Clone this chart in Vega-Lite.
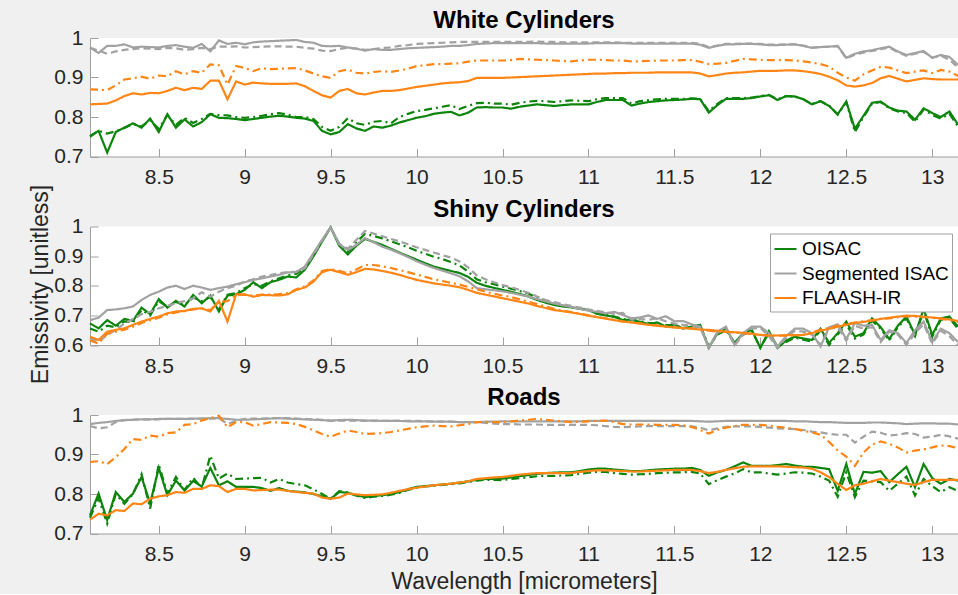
{
"$schema":"https://vega.github.io/schema/vega-lite/v6.json",
"background":"#f0f0f0",
"padding":{"left":29,"top":9,"right":0,"bottom":0},
"bounds":"flush",
"spacing":69.5,
"config":{
"font":"Liberation Sans",
"view":{"fill":"white","stroke":null},
"axis":{"domainColor":"#a0a0a0","tickColor":"#a0a0a0","domainWidth":1,"tickWidth":1,"labelColor":"#262626","labelFontSize":21,"titleFontSize":23,"titleFontWeight":"normal","titleColor":"#262626","grid":false,"tickSize":-8},
"axisX":{"labelPadding":18,"titlePadding":6},
"axisY":{"labelPadding":15,"titlePadding":2},
"title":{"fontSize":24,"fontWeight":"bold","color":"#000000","offset":-6,"anchor":"middle"},
"line":{"strokeWidth":2.2,"clip":true}
},
"datasets":{
"white":[
{"x":8.1,"O1":0.752,"O2":0.75,"S1":0.976,"S2":0.975,"F1":0.832,"F2":0.87},
{"x":8.15,"O1":0.765,"O2":0.765,"S1":0.962,"S2":0.968,"F1":0.833,"F2":0.869},
{"x":8.2,"O1":0.71,"O2":0.758,"S1":0.98,"S2":0.96,"F1":0.834,"F2":0.868},
{"x":8.25,"O1":0.762,"O2":0.764,"S1":0.98,"S2":0.966,"F1":0.842,"F2":0.88},
{"x":8.3,"O1":0.773,"O2":0.772,"S1":0.984,"S2":0.97,"F1":0.853,"F2":0.895},
{"x":8.35,"O1":0.784,"O2":0.782,"S1":0.976,"S2":0.972,"F1":0.86,"F2":0.898},
{"x":8.4,"O1":0.773,"O2":0.776,"S1":0.978,"S2":0.974,"F1":0.857,"F2":0.902},
{"x":8.45,"O1":0.796,"O2":0.792,"S1":0.977,"S2":0.973,"F1":0.861,"F2":0.897},
{"x":8.5,"O1":0.762,"O2":0.77,"S1":0.976,"S2":0.972,"F1":0.86,"F2":0.905},
{"x":8.55,"O1":0.807,"O2":0.805,"S1":0.98,"S2":0.975,"F1":0.866,"F2":0.903},
{"x":8.6,"O1":0.773,"O2":0.78,"S1":0.982,"S2":0.974,"F1":0.874,"F2":0.916},
{"x":8.65,"O1":0.794,"O2":0.798,"S1":0.978,"S2":0.97,"F1":0.868,"F2":0.908},
{"x":8.7,"O1":0.776,"O2":0.785,"S1":0.975,"S2":0.972,"F1":0.874,"F2":0.916},
{"x":8.75,"O1":0.787,"O2":0.795,"S1":0.985,"S2":0.975,"F1":0.871,"F2":0.912},
{"x":8.8,"O1":0.807,"O2":0.808,"S1":0.966,"S2":0.972,"F1":0.892,"F2":0.933},
{"x":8.85,"O1":0.798,"O2":0.805,"S1":0.994,"S2":0.978,"F1":0.892,"F2":0.931},
{"x":8.9,"O1":0.797,"O2":0.804,"S1":0.985,"S2":0.978,"F1":0.845,"F2":0.882},
{"x":8.95,"O1":0.795,"O2":0.8,"S1":0.988,"S2":0.979,"F1":0.89,"F2":0.929},
{"x":9.0,"O1":0.792,"O2":0.798,"S1":0.984,"S2":0.976,"F1":0.882,"F2":0.924},
{"x":9.05,"O1":0.795,"O2":0.8,"S1":0.989,"S2":0.977,"F1":0.887,"F2":0.916},
{"x":9.1,"O1":0.798,"O2":0.803,"S1":0.991,"S2":0.978,"F1":0.885,"F2":0.924},
{"x":9.15,"O1":0.801,"O2":0.807,"S1":0.992,"S2":0.979,"F1":0.884,"F2":0.921},
{"x":9.2,"O1":0.803,"O2":0.81,"S1":0.993,"S2":0.979,"F1":0.884,"F2":0.922},
{"x":9.25,"O1":0.801,"O2":0.806,"S1":0.994,"S2":0.978,"F1":0.884,"F2":0.923},
{"x":9.3,"O1":0.798,"O2":0.8,"S1":0.995,"S2":0.978,"F1":0.885,"F2":0.924},
{"x":9.35,"O1":0.796,"O2":0.8,"S1":0.99,"S2":0.975,"F1":0.878,"F2":0.918},
{"x":9.4,"O1":0.79,"O2":0.795,"S1":0.988,"S2":0.973,"F1":0.866,"F2":0.91},
{"x":9.45,"O1":0.765,"O2":0.775,"S1":0.98,"S2":0.968,"F1":0.855,"F2":0.903},
{"x":9.5,"O1":0.756,"O2":0.765,"S1":0.979,"S2":0.967,"F1":0.849,"F2":0.899},
{"x":9.55,"O1":0.762,"O2":0.775,"S1":0.98,"S2":0.972,"F1":0.866,"F2":0.916},
{"x":9.6,"O1":0.782,"O2":0.797,"S1":0.976,"S2":0.975,"F1":0.871,"F2":0.92},
{"x":9.65,"O1":0.771,"O2":0.784,"S1":0.973,"S2":0.973,"F1":0.86,"F2":0.912},
{"x":9.7,"O1":0.765,"O2":0.78,"S1":0.968,"S2":0.97,"F1":0.857,"F2":0.91},
{"x":9.75,"O1":0.776,"O2":0.788,"S1":0.972,"S2":0.972,"F1":0.862,"F2":0.914},
{"x":9.8,"O1":0.773,"O2":0.79,"S1":0.97,"S2":0.975,"F1":0.866,"F2":0.916},
{"x":9.85,"O1":0.778,"O2":0.784,"S1":0.97,"S2":0.976,"F1":0.866,"F2":0.914},
{"x":9.9,"O1":0.786,"O2":0.8,"S1":0.972,"S2":0.98,"F1":0.868,"F2":0.918},
{"x":9.95,"O1":0.792,"O2":0.808,"S1":0.974,"S2":0.982,"F1":0.872,"F2":0.922},
{"x":10.0,"O1":0.798,"O2":0.815,"S1":0.975,"S2":0.985,"F1":0.876,"F2":0.929},
{"x":10.05,"O1":0.802,"O2":0.818,"S1":0.976,"S2":0.986,"F1":0.879,"F2":0.931},
{"x":10.1,"O1":0.808,"O2":0.822,"S1":0.977,"S2":0.987,"F1":0.882,"F2":0.934},
{"x":10.15,"O1":0.811,"O2":0.826,"S1":0.978,"S2":0.988,"F1":0.885,"F2":0.934},
{"x":10.2,"O1":0.813,"O2":0.83,"S1":0.98,"S2":0.989,"F1":0.887,"F2":0.935},
{"x":10.25,"O1":0.804,"O2":0.82,"S1":0.98,"S2":0.99,"F1":0.888,"F2":0.936},
{"x":10.3,"O1":0.811,"O2":0.828,"S1":0.982,"S2":0.99,"F1":0.891,"F2":0.94},
{"x":10.35,"O1":0.824,"O2":0.835,"S1":0.985,"S2":0.99,"F1":0.899,"F2":0.943},
{"x":10.4,"O1":0.825,"O2":0.836,"S1":0.986,"S2":0.99,"F1":0.899,"F2":0.943},
{"x":10.45,"O1":0.824,"O2":0.834,"S1":0.987,"S2":0.99,"F1":0.899,"F2":0.943},
{"x":10.5,"O1":0.824,"O2":0.834,"S1":0.987,"S2":0.99,"F1":0.899,"F2":0.943},
{"x":10.55,"O1":0.821,"O2":0.831,"S1":0.987,"S2":0.99,"F1":0.9,"F2":0.944},
{"x":10.6,"O1":0.826,"O2":0.836,"S1":0.987,"S2":0.99,"F1":0.901,"F2":0.947},
{"x":10.65,"O1":0.829,"O2":0.839,"S1":0.987,"S2":0.99,"F1":0.902,"F2":0.946},
{"x":10.7,"O1":0.832,"O2":0.841,"S1":0.987,"S2":0.991,"F1":0.903,"F2":0.945},
{"x":10.75,"O1":0.83,"O2":0.84,"S1":0.986,"S2":0.99,"F1":0.904,"F2":0.944},
{"x":10.8,"O1":0.828,"O2":0.838,"S1":0.986,"S2":0.99,"F1":0.905,"F2":0.943},
{"x":10.85,"O1":0.83,"O2":0.84,"S1":0.986,"S2":0.989,"F1":0.906,"F2":0.942},
{"x":10.9,"O1":0.832,"O2":0.842,"S1":0.986,"S2":0.989,"F1":0.907,"F2":0.941},
{"x":10.95,"O1":0.832,"O2":0.841,"S1":0.986,"S2":0.989,"F1":0.908,"F2":0.943},
{"x":11.0,"O1":0.832,"O2":0.84,"S1":0.986,"S2":0.989,"F1":0.909,"F2":0.945},
{"x":11.05,"O1":0.838,"O2":0.845,"S1":0.987,"S2":0.989,"F1":0.91,"F2":0.945},
{"x":11.1,"O1":0.843,"O2":0.848,"S1":0.987,"S2":0.989,"F1":0.91,"F2":0.944},
{"x":11.15,"O1":0.843,"O2":0.848,"S1":0.987,"S2":0.989,"F1":0.911,"F2":0.943},
{"x":11.2,"O1":0.843,"O2":0.848,"S1":0.987,"S2":0.988,"F1":0.911,"F2":0.943},
{"x":11.25,"O1":0.829,"O2":0.834,"S1":0.986,"S2":0.988,"F1":0.912,"F2":0.941},
{"x":11.3,"O1":0.834,"O2":0.84,"S1":0.986,"S2":0.988,"F1":0.912,"F2":0.941},
{"x":11.35,"O1":0.838,"O2":0.843,"S1":0.986,"S2":0.988,"F1":0.912,"F2":0.942},
{"x":11.4,"O1":0.84,"O2":0.845,"S1":0.986,"S2":0.988,"F1":0.913,"F2":0.943},
{"x":11.45,"O1":0.842,"O2":0.846,"S1":0.986,"S2":0.988,"F1":0.913,"F2":0.943},
{"x":11.5,"O1":0.843,"O2":0.846,"S1":0.986,"S2":0.988,"F1":0.913,"F2":0.943},
{"x":11.55,"O1":0.844,"O2":0.846,"S1":0.986,"S2":0.988,"F1":0.913,"F2":0.944},
{"x":11.6,"O1":0.846,"O2":0.847,"S1":0.986,"S2":0.988,"F1":0.913,"F2":0.944},
{"x":11.65,"O1":0.845,"O2":0.846,"S1":0.983,"S2":0.985,"F1":0.91,"F2":0.94},
{"x":11.7,"O1":0.811,"O2":0.815,"S1":0.975,"S2":0.977,"F1":0.903,"F2":0.934},
{"x":11.75,"O1":0.83,"O2":0.833,"S1":0.98,"S2":0.981,"F1":0.906,"F2":0.935},
{"x":11.8,"O1":0.846,"O2":0.848,"S1":0.984,"S2":0.985,"F1":0.91,"F2":0.937},
{"x":11.85,"O1":0.846,"O2":0.848,"S1":0.984,"S2":0.985,"F1":0.912,"F2":0.942},
{"x":11.9,"O1":0.846,"O2":0.848,"S1":0.985,"S2":0.986,"F1":0.913,"F2":0.947},
{"x":11.95,"O1":0.848,"O2":0.849,"S1":0.985,"S2":0.986,"F1":0.915,"F2":0.946},
{"x":12.0,"O1":0.852,"O2":0.853,"S1":0.984,"S2":0.985,"F1":0.917,"F2":0.945},
{"x":12.05,"O1":0.855,"O2":0.856,"S1":0.982,"S2":0.983,"F1":0.917,"F2":0.944},
{"x":12.1,"O1":0.843,"O2":0.845,"S1":0.982,"S2":0.983,"F1":0.917,"F2":0.944},
{"x":12.15,"O1":0.853,"O2":0.853,"S1":0.983,"S2":0.984,"F1":0.918,"F2":0.944},
{"x":12.2,"O1":0.852,"O2":0.852,"S1":0.984,"S2":0.984,"F1":0.918,"F2":0.943},
{"x":12.25,"O1":0.845,"O2":0.845,"S1":0.98,"S2":0.981,"F1":0.916,"F2":0.941},
{"x":12.3,"O1":0.832,"O2":0.833,"S1":0.975,"S2":0.976,"F1":0.913,"F2":0.938},
{"x":12.35,"O1":0.84,"O2":0.84,"S1":0.977,"S2":0.977,"F1":0.909,"F2":0.934},
{"x":12.4,"O1":0.828,"O2":0.829,"S1":0.978,"S2":0.978,"F1":0.902,"F2":0.928},
{"x":12.45,"O1":0.807,"O2":0.806,"S1":0.98,"S2":0.979,"F1":0.893,"F2":0.912},
{"x":12.5,"O1":0.839,"O2":0.838,"S1":0.95,"S2":0.948,"F1":0.88,"F2":0.9},
{"x":12.55,"O1":0.77,"O2":0.762,"S1":0.96,"S2":0.958,"F1":0.877,"F2":0.892},
{"x":12.6,"O1":0.803,"O2":0.8,"S1":0.966,"S2":0.963,"F1":0.88,"F2":0.908},
{"x":12.65,"O1":0.836,"O2":0.834,"S1":0.969,"S2":0.967,"F1":0.886,"F2":0.918},
{"x":12.7,"O1":0.839,"O2":0.838,"S1":0.974,"S2":0.972,"F1":0.898,"F2":0.927},
{"x":12.75,"O1":0.824,"O2":0.822,"S1":0.978,"S2":0.976,"F1":0.904,"F2":0.925},
{"x":12.8,"O1":0.816,"O2":0.814,"S1":0.966,"S2":0.964,"F1":0.897,"F2":0.918},
{"x":12.85,"O1":0.814,"O2":0.81,"S1":0.957,"S2":0.955,"F1":0.89,"F2":0.911},
{"x":12.9,"O1":0.793,"O2":0.788,"S1":0.962,"S2":0.96,"F1":0.894,"F2":0.915},
{"x":12.95,"O1":0.822,"O2":0.819,"S1":0.967,"S2":0.965,"F1":0.898,"F2":0.918},
{"x":13.0,"O1":0.81,"O2":0.805,"S1":0.95,"S2":0.95,"F1":0.896,"F2":0.911},
{"x":13.05,"O1":0.8,"O2":0.796,"S1":0.957,"S2":0.955,"F1":0.895,"F2":0.919},
{"x":13.1,"O1":0.814,"O2":0.808,"S1":0.952,"S2":0.945,"F1":0.895,"F2":0.915},
{"x":13.15,"O1":0.781,"O2":0.776,"S1":0.932,"S2":0.925,"F1":0.895,"F2":0.904}
],
"shiny":[
{"x":8.1,"O1":0.673,"O2":0.656,"S1":0.684,"S2":0.622,"F1":0.628,"F2":0.615},
{"x":8.15,"O1":0.656,"O2":0.645,"S1":0.692,"S2":0.611,"F1":0.617,"F2":0.605},
{"x":8.2,"O1":0.684,"O2":0.665,"S1":0.718,"S2":0.634,"F1":0.645,"F2":0.638},
{"x":8.25,"O1":0.665,"O2":0.66,"S1":0.72,"S2":0.65,"F1":0.651,"F2":0.645},
{"x":8.3,"O1":0.688,"O2":0.68,"S1":0.724,"S2":0.673,"F1":0.656,"F2":0.652},
{"x":8.35,"O1":0.681,"O2":0.676,"S1":0.73,"S2":0.688,"F1":0.668,"F2":0.662},
{"x":8.4,"O1":0.726,"O2":0.718,"S1":0.752,"S2":0.704,"F1":0.679,"F2":0.674},
{"x":8.45,"O1":0.704,"O2":0.7,"S1":0.769,"S2":0.712,"F1":0.688,"F2":0.684},
{"x":8.5,"O1":0.755,"O2":0.748,"S1":0.78,"S2":0.724,"F1":0.696,"F2":0.692},
{"x":8.55,"O1":0.726,"O2":0.73,"S1":0.794,"S2":0.732,"F1":0.707,"F2":0.703},
{"x":8.6,"O1":0.749,"O2":0.745,"S1":0.8,"S2":0.741,"F1":0.713,"F2":0.71},
{"x":8.65,"O1":0.73,"O2":0.735,"S1":0.789,"S2":0.748,"F1":0.715,"F2":0.714},
{"x":8.7,"O1":0.769,"O2":0.76,"S1":0.8,"S2":0.758,"F1":0.722,"F2":0.72},
{"x":8.75,"O1":0.741,"O2":0.748,"S1":0.794,"S2":0.778,"F1":0.724,"F2":0.723},
{"x":8.8,"O1":0.767,"O2":0.762,"S1":0.786,"S2":0.763,"F1":0.713,"F2":0.718},
{"x":8.85,"O1":0.713,"O2":0.72,"S1":0.792,"S2":0.78,"F1":0.749,"F2":0.745},
{"x":8.9,"O1":0.767,"O2":0.77,"S1":0.797,"S2":0.792,"F1":0.679,"F2":0.748},
{"x":8.95,"O1":0.771,"O2":0.775,"S1":0.805,"S2":0.8,"F1":0.771,"F2":0.768},
{"x":9.0,"O1":0.786,"O2":0.792,"S1":0.812,"S2":0.814,"F1":0.771,"F2":0.77},
{"x":9.05,"O1":0.812,"O2":0.805,"S1":0.82,"S2":0.822,"F1":0.763,"F2":0.766},
{"x":9.1,"O1":0.792,"O2":0.8,"S1":0.825,"S2":0.831,"F1":0.769,"F2":0.77},
{"x":9.15,"O1":0.812,"O2":0.815,"S1":0.831,"S2":0.836,"F1":0.768,"F2":0.77},
{"x":9.2,"O1":0.82,"O2":0.825,"S1":0.837,"S2":0.842,"F1":0.767,"F2":0.772},
{"x":9.25,"O1":0.831,"O2":0.835,"S1":0.845,"S2":0.846,"F1":0.771,"F2":0.775},
{"x":9.3,"O1":0.828,"O2":0.84,"S1":0.846,"S2":0.848,"F1":0.786,"F2":0.788},
{"x":9.35,"O1":0.854,"O2":0.86,"S1":0.865,"S2":0.859,"F1":0.794,"F2":0.798},
{"x":9.4,"O1":0.899,"O2":0.905,"S1":0.91,"S2":0.905,"F1":0.814,"F2":0.818},
{"x":9.45,"O1":0.949,"O2":0.952,"S1":0.955,"S2":0.952,"F1":0.846,"F2":0.85},
{"x":9.5,"O1":0.997,"O2":0.997,"S1":0.997,"S2":0.997,"F1":0.854,"F2":0.856},
{"x":9.55,"O1":0.935,"O2":0.94,"S1":0.94,"S2":0.942,"F1":0.846,"F2":0.85},
{"x":9.6,"O1":0.906,"O2":0.915,"S1":0.921,"S2":0.925,"F1":0.837,"F2":0.842},
{"x":9.65,"O1":0.935,"O2":0.948,"S1":0.938,"S2":0.955,"F1":0.846,"F2":0.855},
{"x":9.7,"O1":0.958,"O2":0.975,"S1":0.961,"S2":0.985,"F1":0.857,"F2":0.87},
{"x":9.75,"O1":0.948,"O2":0.968,"S1":0.947,"S2":0.976,"F1":0.855,"F2":0.87},
{"x":9.8,"O1":0.938,"O2":0.96,"S1":0.932,"S2":0.967,"F1":0.85,"F2":0.866},
{"x":9.85,"O1":0.925,"O2":0.95,"S1":0.922,"S2":0.958,"F1":0.844,"F2":0.86},
{"x":9.9,"O1":0.912,"O2":0.94,"S1":0.91,"S2":0.95,"F1":0.837,"F2":0.853},
{"x":9.95,"O1":0.9,"O2":0.93,"S1":0.897,"S2":0.94,"F1":0.828,"F2":0.846},
{"x":10.0,"O1":0.888,"O2":0.918,"S1":0.883,"S2":0.93,"F1":0.82,"F2":0.838},
{"x":10.05,"O1":0.876,"O2":0.908,"S1":0.871,"S2":0.921,"F1":0.814,"F2":0.83},
{"x":10.1,"O1":0.865,"O2":0.898,"S1":0.86,"S2":0.912,"F1":0.808,"F2":0.822},
{"x":10.15,"O1":0.857,"O2":0.89,"S1":0.851,"S2":0.903,"F1":0.804,"F2":0.816},
{"x":10.2,"O1":0.85,"O2":0.88,"S1":0.842,"S2":0.895,"F1":0.8,"F2":0.81},
{"x":10.25,"O1":0.843,"O2":0.868,"S1":0.832,"S2":0.882,"F1":0.795,"F2":0.804},
{"x":10.3,"O1":0.83,"O2":0.848,"S1":0.815,"S2":0.862,"F1":0.786,"F2":0.796},
{"x":10.35,"O1":0.81,"O2":0.822,"S1":0.792,"S2":0.835,"F1":0.776,"F2":0.788},
{"x":10.4,"O1":0.8,"O2":0.812,"S1":0.788,"S2":0.822,"F1":0.77,"F2":0.78},
{"x":10.45,"O1":0.793,"O2":0.805,"S1":0.785,"S2":0.812,"F1":0.764,"F2":0.773},
{"x":10.5,"O1":0.786,"O2":0.797,"S1":0.781,"S2":0.802,"F1":0.758,"F2":0.767},
{"x":10.55,"O1":0.78,"O2":0.79,"S1":0.776,"S2":0.795,"F1":0.752,"F2":0.762},
{"x":10.6,"O1":0.772,"O2":0.782,"S1":0.77,"S2":0.786,"F1":0.746,"F2":0.754},
{"x":10.65,"O1":0.764,"O2":0.774,"S1":0.764,"S2":0.776,"F1":0.74,"F2":0.746},
{"x":10.7,"O1":0.752,"O2":0.76,"S1":0.755,"S2":0.764,"F1":0.732,"F2":0.738},
{"x":10.75,"O1":0.743,"O2":0.75,"S1":0.748,"S2":0.752,"F1":0.725,"F2":0.73},
{"x":10.8,"O1":0.735,"O2":0.74,"S1":0.74,"S2":0.745,"F1":0.718,"F2":0.722},
{"x":10.85,"O1":0.73,"O2":0.733,"S1":0.734,"S2":0.738,"F1":0.714,"F2":0.716},
{"x":10.9,"O1":0.727,"O2":0.728,"S1":0.728,"S2":0.732,"F1":0.71,"F2":0.711},
{"x":10.95,"O1":0.722,"O2":0.723,"S1":0.722,"S2":0.726,"F1":0.705,"F2":0.706},
{"x":11.0,"O1":0.718,"O2":0.718,"S1":0.716,"S2":0.72,"F1":0.699,"F2":0.7},
{"x":11.05,"O1":0.705,"O2":0.708,"S1":0.712,"S2":0.715,"F1":0.694,"F2":0.695},
{"x":11.1,"O1":0.7,"O2":0.702,"S1":0.707,"S2":0.71,"F1":0.689,"F2":0.69},
{"x":11.15,"O1":0.695,"O2":0.696,"S1":0.712,"S2":0.705,"F1":0.684,"F2":0.685},
{"x":11.2,"O1":0.684,"O2":0.688,"S1":0.701,"S2":0.708,"F1":0.679,"F2":0.68},
{"x":11.25,"O1":0.686,"O2":0.684,"S1":0.69,"S2":0.686,"F1":0.676,"F2":0.677},
{"x":11.3,"O1":0.678,"O2":0.68,"S1":0.693,"S2":0.688,"F1":0.672,"F2":0.673},
{"x":11.35,"O1":0.67,"O2":0.675,"S1":0.7,"S2":0.685,"F1":0.668,"F2":0.669},
{"x":11.4,"O1":0.676,"O2":0.672,"S1":0.688,"S2":0.69,"F1":0.665,"F2":0.666},
{"x":11.45,"O1":0.662,"O2":0.668,"S1":0.697,"S2":0.68,"F1":0.662,"F2":0.663},
{"x":11.5,"O1":0.67,"O2":0.665,"S1":0.68,"S2":0.672,"F1":0.659,"F2":0.66},
{"x":11.55,"O1":0.655,"O2":0.658,"S1":0.681,"S2":0.668,"F1":0.657,"F2":0.658},
{"x":11.6,"O1":0.662,"O2":0.66,"S1":0.67,"S2":0.665,"F1":0.655,"F2":0.656},
{"x":11.65,"O1":0.668,"O2":0.665,"S1":0.662,"S2":0.66,"F1":0.652,"F2":0.653},
{"x":11.7,"O1":0.59,"O2":0.595,"S1":0.59,"S2":0.592,"F1":0.651,"F2":0.648},
{"x":11.75,"O1":0.64,"O2":0.635,"S1":0.645,"S2":0.64,"F1":0.648,"F2":0.645},
{"x":11.8,"O1":0.655,"O2":0.65,"S1":0.662,"S2":0.658,"F1":0.645,"F2":0.644},
{"x":11.85,"O1":0.607,"O2":0.605,"S1":0.6,"S2":0.598,"F1":0.643,"F2":0.642},
{"x":11.9,"O1":0.64,"O2":0.635,"S1":0.64,"S2":0.635,"F1":0.641,"F2":0.64},
{"x":11.95,"O1":0.651,"O2":0.648,"S1":0.662,"S2":0.655,"F1":0.638,"F2":0.637},
{"x":12.0,"O1":0.59,"O2":0.592,"S1":0.662,"S2":0.658,"F1":0.634,"F2":0.634},
{"x":12.05,"O1":0.647,"O2":0.64,"S1":0.64,"S2":0.63,"F1":0.632,"F2":0.632},
{"x":12.1,"O1":0.59,"O2":0.595,"S1":0.595,"S2":0.59,"F1":0.632,"F2":0.631},
{"x":12.15,"O1":0.615,"O2":0.61,"S1":0.63,"S2":0.625,"F1":0.633,"F2":0.632},
{"x":12.2,"O1":0.628,"O2":0.625,"S1":0.655,"S2":0.648,"F1":0.633,"F2":0.633},
{"x":12.25,"O1":0.622,"O2":0.618,"S1":0.655,"S2":0.645,"F1":0.634,"F2":0.634},
{"x":12.3,"O1":0.617,"O2":0.612,"S1":0.64,"S2":0.635,"F1":0.64,"F2":0.642},
{"x":12.35,"O1":0.655,"O2":0.65,"S1":0.595,"S2":0.6,"F1":0.648,"F2":0.652},
{"x":12.4,"O1":0.607,"O2":0.6,"S1":0.66,"S2":0.655,"F1":0.655,"F2":0.658},
{"x":12.45,"O1":0.64,"O2":0.635,"S1":0.67,"S2":0.66,"F1":0.662,"F2":0.665},
{"x":12.5,"O1":0.679,"O2":0.67,"S1":0.62,"S2":0.615,"F1":0.668,"F2":0.672},
{"x":12.55,"O1":0.628,"O2":0.622,"S1":0.674,"S2":0.665,"F1":0.674,"F2":0.676},
{"x":12.6,"O1":0.64,"O2":0.635,"S1":0.665,"S2":0.655,"F1":0.678,"F2":0.68},
{"x":12.65,"O1":0.69,"O2":0.682,"S1":0.668,"S2":0.66,"F1":0.682,"F2":0.684},
{"x":12.7,"O1":0.66,"O2":0.655,"S1":0.617,"S2":0.61,"F1":0.688,"F2":0.688},
{"x":12.75,"O1":0.62,"O2":0.615,"S1":0.65,"S2":0.645,"F1":0.692,"F2":0.69},
{"x":12.8,"O1":0.665,"O2":0.66,"S1":0.64,"S2":0.635,"F1":0.696,"F2":0.694},
{"x":12.85,"O1":0.696,"O2":0.69,"S1":0.607,"S2":0.6,"F1":0.699,"F2":0.697},
{"x":12.9,"O1":0.634,"O2":0.63,"S1":0.65,"S2":0.64,"F1":0.698,"F2":0.696},
{"x":12.95,"O1":0.722,"O2":0.715,"S1":0.679,"S2":0.67,"F1":0.695,"F2":0.694},
{"x":13.0,"O1":0.634,"O2":0.628,"S1":0.61,"S2":0.605,"F1":0.693,"F2":0.692},
{"x":13.05,"O1":0.69,"O2":0.685,"S1":0.655,"S2":0.648,"F1":0.69,"F2":0.688},
{"x":13.1,"O1":0.696,"O2":0.69,"S1":0.64,"S2":0.63,"F1":0.686,"F2":0.684},
{"x":13.15,"O1":0.662,"O2":0.655,"S1":0.61,"S2":0.6,"F1":0.681,"F2":0.679}
],
"roads":[
{"x":8.1,"O1":0.746,"O2":0.74,"S1":0.977,"S2":0.972,"F1":0.735,"F2":0.881},
{"x":8.15,"O1":0.801,"O2":0.79,"S1":0.98,"S2":0.966,"F1":0.75,"F2":0.883},
{"x":8.2,"O1":0.734,"O2":0.725,"S1":0.982,"S2":0.969,"F1":0.746,"F2":0.876},
{"x":8.25,"O1":0.805,"O2":0.8,"S1":0.985,"S2":0.982,"F1":0.759,"F2":0.893},
{"x":8.3,"O1":0.78,"O2":0.775,"S1":0.987,"S2":0.987,"F1":0.757,"F2":0.914},
{"x":8.35,"O1":0.801,"O2":0.8,"S1":0.988,"S2":0.988,"F1":0.776,"F2":0.939},
{"x":8.4,"O1":0.843,"O2":0.85,"S1":0.989,"S2":0.989,"F1":0.774,"F2":0.937},
{"x":8.45,"O1":0.776,"O2":0.763,"S1":0.989,"S2":0.989,"F1":0.788,"F2":0.948},
{"x":8.5,"O1":0.866,"O2":0.875,"S1":0.99,"S2":0.989,"F1":0.794,"F2":0.945},
{"x":8.55,"O1":0.797,"O2":0.801,"S1":0.99,"S2":0.99,"F1":0.797,"F2":0.954},
{"x":8.6,"O1":0.834,"O2":0.843,"S1":0.99,"S2":0.99,"F1":0.805,"F2":0.956},
{"x":8.65,"O1":0.809,"O2":0.81,"S1":0.99,"S2":0.99,"F1":0.803,"F2":0.975},
{"x":8.7,"O1":0.833,"O2":0.841,"S1":0.991,"S2":0.99,"F1":0.813,"F2":0.977},
{"x":8.75,"O1":0.819,"O2":0.815,"S1":0.991,"S2":0.991,"F1":0.813,"F2":0.986},
{"x":8.8,"O1":0.866,"O2":0.897,"S1":0.992,"S2":0.991,"F1":0.822,"F2":0.992},
{"x":8.85,"O1":0.822,"O2":0.839,"S1":0.992,"S2":0.992,"F1":0.82,"F2":0.998},
{"x":8.9,"O1":0.832,"O2":0.852,"S1":0.99,"S2":0.977,"F1":0.805,"F2":0.969},
{"x":8.95,"O1":0.818,"O2":0.838,"S1":0.988,"S2":0.985,"F1":0.813,"F2":0.982},
{"x":9.0,"O1":0.818,"O2":0.839,"S1":0.988,"S2":0.99,"F1":0.813,"F2":0.982},
{"x":9.05,"O1":0.818,"O2":0.84,"S1":0.989,"S2":0.991,"F1":0.809,"F2":0.973},
{"x":9.1,"O1":0.815,"O2":0.841,"S1":0.99,"S2":0.991,"F1":0.81,"F2":0.977},
{"x":9.15,"O1":0.808,"O2":0.829,"S1":0.991,"S2":0.992,"F1":0.811,"F2":0.982},
{"x":9.2,"O1":0.815,"O2":0.838,"S1":0.992,"S2":0.992,"F1":0.811,"F2":0.981},
{"x":9.25,"O1":0.808,"O2":0.829,"S1":0.991,"S2":0.992,"F1":0.808,"F2":0.98},
{"x":9.3,"O1":0.806,"O2":0.825,"S1":0.99,"S2":0.991,"F1":0.805,"F2":0.977},
{"x":9.35,"O1":0.804,"O2":0.822,"S1":0.989,"S2":0.99,"F1":0.803,"F2":0.97},
{"x":9.4,"O1":0.8,"O2":0.812,"S1":0.988,"S2":0.989,"F1":0.801,"F2":0.961},
{"x":9.45,"O1":0.794,"O2":0.8,"S1":0.987,"S2":0.988,"F1":0.791,"F2":0.952},
{"x":9.5,"O1":0.788,"O2":0.788,"S1":0.986,"S2":0.985,"F1":0.788,"F2":0.945},
{"x":9.55,"O1":0.805,"O2":0.807,"S1":0.987,"S2":0.986,"F1":0.791,"F2":0.953},
{"x":9.6,"O1":0.803,"O2":0.804,"S1":0.988,"S2":0.986,"F1":0.801,"F2":0.961},
{"x":9.65,"O1":0.797,"O2":0.796,"S1":0.987,"S2":0.986,"F1":0.799,"F2":0.957},
{"x":9.7,"O1":0.792,"O2":0.79,"S1":0.986,"S2":0.985,"F1":0.797,"F2":0.952},
{"x":9.75,"O1":0.795,"O2":0.793,"S1":0.986,"S2":0.985,"F1":0.798,"F2":0.953},
{"x":9.8,"O1":0.797,"O2":0.795,"S1":0.985,"S2":0.985,"F1":0.799,"F2":0.954},
{"x":9.85,"O1":0.8,"O2":0.798,"S1":0.985,"S2":0.985,"F1":0.803,"F2":0.957},
{"x":9.9,"O1":0.805,"O2":0.803,"S1":0.985,"S2":0.985,"F1":0.808,"F2":0.961},
{"x":9.95,"O1":0.812,"O2":0.81,"S1":0.984,"S2":0.985,"F1":0.812,"F2":0.965},
{"x":10.0,"O1":0.818,"O2":0.816,"S1":0.984,"S2":0.985,"F1":0.816,"F2":0.969},
{"x":10.05,"O1":0.82,"O2":0.819,"S1":0.984,"S2":0.984,"F1":0.819,"F2":0.971},
{"x":10.1,"O1":0.822,"O2":0.821,"S1":0.983,"S2":0.984,"F1":0.822,"F2":0.973},
{"x":10.15,"O1":0.824,"O2":0.823,"S1":0.983,"S2":0.983,"F1":0.824,"F2":0.972},
{"x":10.2,"O1":0.826,"O2":0.825,"S1":0.983,"S2":0.983,"F1":0.826,"F2":0.971},
{"x":10.25,"O1":0.829,"O2":0.827,"S1":0.982,"S2":0.982,"F1":0.829,"F2":0.974},
{"x":10.3,"O1":0.832,"O2":0.83,"S1":0.982,"S2":0.982,"F1":0.832,"F2":0.977},
{"x":10.35,"O1":0.836,"O2":0.834,"S1":0.982,"S2":0.982,"F1":0.838,"F2":0.982},
{"x":10.4,"O1":0.838,"O2":0.836,"S1":0.983,"S2":0.98,"F1":0.84,"F2":0.982},
{"x":10.45,"O1":0.838,"O2":0.836,"S1":0.983,"S2":0.978,"F1":0.842,"F2":0.982},
{"x":10.5,"O1":0.839,"O2":0.835,"S1":0.984,"S2":0.977,"F1":0.843,"F2":0.982},
{"x":10.55,"O1":0.842,"O2":0.838,"S1":0.984,"S2":0.977,"F1":0.846,"F2":0.984},
{"x":10.6,"O1":0.845,"O2":0.84,"S1":0.984,"S2":0.976,"F1":0.849,"F2":0.986},
{"x":10.65,"O1":0.848,"O2":0.842,"S1":0.984,"S2":0.976,"F1":0.851,"F2":0.988},
{"x":10.7,"O1":0.851,"O2":0.845,"S1":0.984,"S2":0.976,"F1":0.853,"F2":0.99},
{"x":10.75,"O1":0.853,"O2":0.846,"S1":0.984,"S2":0.975,"F1":0.853,"F2":0.988},
{"x":10.8,"O1":0.854,"O2":0.846,"S1":0.984,"S2":0.975,"F1":0.853,"F2":0.986},
{"x":10.85,"O1":0.855,"O2":0.847,"S1":0.984,"S2":0.975,"F1":0.853,"F2":0.984},
{"x":10.9,"O1":0.855,"O2":0.848,"S1":0.984,"S2":0.975,"F1":0.853,"F2":0.982},
{"x":10.95,"O1":0.858,"O2":0.851,"S1":0.984,"S2":0.975,"F1":0.856,"F2":0.983},
{"x":11.0,"O1":0.862,"O2":0.854,"S1":0.985,"S2":0.975,"F1":0.858,"F2":0.984},
{"x":11.05,"O1":0.864,"O2":0.856,"S1":0.985,"S2":0.974,"F1":0.86,"F2":0.985},
{"x":11.1,"O1":0.864,"O2":0.856,"S1":0.985,"S2":0.972,"F1":0.86,"F2":0.986},
{"x":11.15,"O1":0.862,"O2":0.853,"S1":0.985,"S2":0.97,"F1":0.859,"F2":0.982},
{"x":11.2,"O1":0.86,"O2":0.851,"S1":0.985,"S2":0.969,"F1":0.858,"F2":0.977},
{"x":11.25,"O1":0.858,"O2":0.849,"S1":0.985,"S2":0.97,"F1":0.857,"F2":0.976},
{"x":11.3,"O1":0.858,"O2":0.85,"S1":0.985,"S2":0.971,"F1":0.857,"F2":0.976},
{"x":11.35,"O1":0.86,"O2":0.851,"S1":0.985,"S2":0.972,"F1":0.858,"F2":0.976},
{"x":11.4,"O1":0.862,"O2":0.853,"S1":0.985,"S2":0.972,"F1":0.859,"F2":0.975},
{"x":11.45,"O1":0.863,"O2":0.854,"S1":0.985,"S2":0.972,"F1":0.86,"F2":0.975},
{"x":11.5,"O1":0.864,"O2":0.855,"S1":0.985,"S2":0.972,"F1":0.861,"F2":0.975},
{"x":11.55,"O1":0.864,"O2":0.855,"S1":0.985,"S2":0.972,"F1":0.861,"F2":0.974},
{"x":11.6,"O1":0.866,"O2":0.856,"S1":0.985,"S2":0.971,"F1":0.861,"F2":0.97},
{"x":11.65,"O1":0.861,"O2":0.852,"S1":0.984,"S2":0.968,"F1":0.858,"F2":0.962},
{"x":11.7,"O1":0.846,"O2":0.825,"S1":0.983,"S2":0.961,"F1":0.853,"F2":0.953},
{"x":11.75,"O1":0.855,"O2":0.835,"S1":0.984,"S2":0.966,"F1":0.856,"F2":0.962},
{"x":11.8,"O1":0.861,"O2":0.844,"S1":0.985,"S2":0.97,"F1":0.861,"F2":0.968},
{"x":11.85,"O1":0.87,"O2":0.852,"S1":0.985,"S2":0.971,"F1":0.865,"F2":0.972},
{"x":11.9,"O1":0.88,"O2":0.863,"S1":0.985,"S2":0.971,"F1":0.869,"F2":0.975},
{"x":11.95,"O1":0.871,"O2":0.855,"S1":0.985,"S2":0.971,"F1":0.87,"F2":0.975},
{"x":12.0,"O1":0.871,"O2":0.855,"S1":0.985,"S2":0.97,"F1":0.87,"F2":0.975},
{"x":12.05,"O1":0.871,"O2":0.852,"S1":0.985,"S2":0.968,"F1":0.87,"F2":0.973},
{"x":12.1,"O1":0.873,"O2":0.849,"S1":0.985,"S2":0.966,"F1":0.87,"F2":0.97},
{"x":12.15,"O1":0.876,"O2":0.852,"S1":0.985,"S2":0.965,"F1":0.869,"F2":0.968},
{"x":12.2,"O1":0.872,"O2":0.855,"S1":0.984,"S2":0.964,"F1":0.868,"F2":0.965},
{"x":12.25,"O1":0.869,"O2":0.854,"S1":0.984,"S2":0.962,"F1":0.867,"F2":0.96},
{"x":12.3,"O1":0.869,"O2":0.852,"S1":0.983,"S2":0.958,"F1":0.864,"F2":0.956},
{"x":12.35,"O1":0.866,"O2":0.844,"S1":0.982,"S2":0.956,"F1":0.855,"F2":0.95},
{"x":12.4,"O1":0.863,"O2":0.834,"S1":0.982,"S2":0.952,"F1":0.843,"F2":0.932},
{"x":12.45,"O1":0.808,"O2":0.793,"S1":0.981,"S2":0.95,"F1":0.826,"F2":0.91},
{"x":12.5,"O1":0.876,"O2":0.855,"S1":0.98,"S2":0.95,"F1":0.81,"F2":0.895},
{"x":12.55,"O1":0.8,"O2":0.792,"S1":0.98,"S2":0.93,"F1":0.822,"F2":0.871},
{"x":12.6,"O1":0.856,"O2":0.834,"S1":0.98,"S2":0.945,"F1":0.826,"F2":0.905},
{"x":12.65,"O1":0.854,"O2":0.832,"S1":0.981,"S2":0.958,"F1":0.832,"F2":0.925},
{"x":12.7,"O1":0.858,"O2":0.83,"S1":0.981,"S2":0.955,"F1":0.838,"F2":0.933},
{"x":12.75,"O1":0.83,"O2":0.808,"S1":0.98,"S2":0.948,"F1":0.834,"F2":0.927},
{"x":12.8,"O1":0.85,"O2":0.826,"S1":0.979,"S2":0.95,"F1":0.83,"F2":0.918},
{"x":12.85,"O1":0.869,"O2":0.844,"S1":0.977,"S2":0.954,"F1":0.826,"F2":0.905},
{"x":12.9,"O1":0.817,"O2":0.796,"S1":0.978,"S2":0.952,"F1":0.823,"F2":0.91},
{"x":12.95,"O1":0.876,"O2":0.838,"S1":0.979,"S2":0.943,"F1":0.83,"F2":0.913},
{"x":13.0,"O1":0.84,"O2":0.82,"S1":0.979,"S2":0.945,"F1":0.836,"F2":0.918},
{"x":13.05,"O1":0.826,"O2":0.805,"S1":0.978,"S2":0.95,"F1":0.836,"F2":0.923},
{"x":13.1,"O1":0.838,"O2":0.817,"S1":0.978,"S2":0.946,"F1":0.836,"F2":0.921},
{"x":13.15,"O1":0.834,"O2":0.808,"S1":0.976,"S2":0.94,"F1":0.836,"F2":0.916}
]
},
"vconcat":[
{
"data":{"name":"white"},
"title":"White Cylinders",
"width":868,"height":118.5,
"transform":[{"fold":["O1","O2","S1","S2","F1","F2"],"as":["series","emissivity"]}],
"mark":{"type":"line"},
"encoding":{
"x":{"field":"x","type":"quantitative","scale":{"domain":[8.1,13.15],"nice":false,"zero":false},"axis":{"values":[8.5,9,9.5,10,10.5,11,11.5,12,12.5,13],"format":"~g","title":null}},
"y":{"field":"emissivity","type":"quantitative","scale":{"domain":[0.7,1],"nice":false,"zero":false},"axis":{"values":[0.7,0.8,0.9,1],"format":"~g","title":"Emissivity [unitless]","titleX":-38,"titleY":246}},
"color":{"field":"series","type":"nominal","scale":{"domain":["O1","O2","S1","S2","F1","F2"],"range":["#0d850d","#0d850d","#a2a2a2","#a2a2a2","#ff8616","#ff8616"]},"legend":null},
"strokeDash":{"field":"series","type":"nominal","scale":{"domain":["O1","O2","S1","S2","F1","F2"],"range":[[1,0],[8,4,2,4],[1,0],[7,4],[1,0],[8,4,2,4]]},"legend":null}
}
},
{
"data":{"name":"shiny"},
"title":"Shiny Cylinders",
"width":868,"height":118.5,
"transform":[{"fold":["O1","O2","S1","S2","F1","F2"],"as":["series","emissivity"]}],
"mark":{"type":"line"},
"encoding":{
"x":{"field":"x","type":"quantitative","scale":{"domain":[8.1,13.15],"nice":false,"zero":false},"axis":{"values":[8.5,9,9.5,10,10.5,11,11.5,12,12.5,13],"format":"~g","title":null}},
"y":{"field":"emissivity","type":"quantitative","scale":{"domain":[0.6,1],"nice":false,"zero":false},"axis":{"values":[0.6,0.7,0.8,0.9,1],"format":"~g","title":null}},
"color":{"field":"series","type":"nominal","scale":{"domain":["O1","O2","S1","S2","F1","F2"],"range":["#0d850d","#0d850d","#a2a2a2","#a2a2a2","#ff8616","#ff8616"]},
"legend":{"orient":"none","legendX":680,"legendY":7,"title":null,"values":["O1","S1","F1"],"labelExpr":"datum.label == 'O1' ? 'OISAC' : datum.label == 'S1' ? 'Segmented ISAC' : 'FLAASH-IR'","symbolType":"stroke","symbolSize":484,"symbolStrokeWidth":2.2,"labelFontSize":19,"labelColor":"#000000","strokeColor":"#a0a0a0","fillColor":"#ffffff","padding":3,"rowPadding":1.5,"labelOffset":4}},
"strokeDash":{"field":"series","type":"nominal","scale":{"domain":["O1","O2","S1","S2","F1","F2"],"range":[[1,0],[8,4,2,4],[1,0],[7,4],[1,0],[8,4,2,4]]},"legend":null}
}
},
{
"data":{"name":"roads"},
"title":"Roads",
"width":868,"height":118.5,
"transform":[{"fold":["O1","O2","S1","S2","F1","F2"],"as":["series","emissivity"]}],
"mark":{"type":"line"},
"encoding":{
"x":{"field":"x","type":"quantitative","scale":{"domain":[8.1,13.15],"nice":false,"zero":false},"axis":{"values":[8.5,9,9.5,10,10.5,11,11.5,12,12.5,13],"format":"~g","title":"Wavelength [micrometers]"}},
"y":{"field":"emissivity","type":"quantitative","scale":{"domain":[0.7,1],"nice":false,"zero":false},"axis":{"values":[0.7,0.8,0.9,1],"format":"~g","title":null}},
"color":{"field":"series","type":"nominal","scale":{"domain":["O1","O2","S1","S2","F1","F2"],"range":["#0d850d","#0d850d","#a2a2a2","#a2a2a2","#ff8616","#ff8616"]},"legend":null},
"strokeDash":{"field":"series","type":"nominal","scale":{"domain":["O1","O2","S1","S2","F1","F2"],"range":[[1,0],[8,4,2,4],[1,0],[7,4],[1,0],[8,4,2,4]]},"legend":null}
}
}
],
"resolve":{"legend":{"color":"independent","strokeDash":"independent"}}
}
